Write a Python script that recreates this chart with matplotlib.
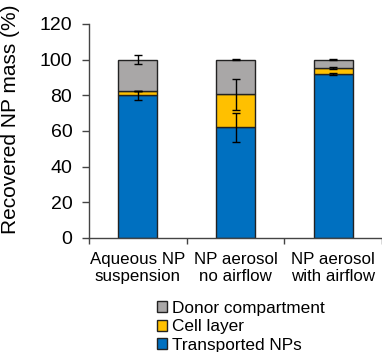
import matplotlib
matplotlib.use("Agg")
import matplotlib.pyplot as plt
import numpy as np

plt.rcParams['font.family'] = ['Liberation Sans', 'DejaVu Sans']

categories = ["Aqueous NP\nsuspension", "NP aerosol\nno airflow", "NP aerosol\nwith airflow"]
transported = [80.0, 62.0, 92.0]
cell_layer = [2.5, 18.5, 3.5]
donor = [17.5, 19.5, 4.5]
err_transported = [2.6, 8.0, 0.5]
err_cell = [0.0, 8.5, 0.5]
err_donor = [2.5, 0.3, 0.5]

c_blue = "#0070C0"
c_yellow = "#FFC000"
c_gray = "#A9A7A7"
edge = "#222222"

fig = plt.figure(figsize=(3.82, 3.52), dpi=100)
ax = fig.add_axes([0.233, 0.324, 0.767, 0.608])

x = np.arange(len(categories))
w = 0.4
t = np.array(transported)
c = np.array(cell_layer)
d = np.array(donor)
ax.bar(x, t, w, color=c_blue, edgecolor=edge, linewidth=1, label="Transported NPs", zorder=2)
ax.bar(x, c, w, bottom=t, color=c_yellow, edgecolor=edge, linewidth=1, label="Cell layer", zorder=2)
ax.bar(x, d, w, bottom=t + c, color=c_gray, edgecolor=edge, linewidth=1, label="Donor compartment", zorder=2)

ekw = dict(fmt='none', ecolor='black', elinewidth=1, capsize=3.2, capthick=1, zorder=3)
ax.errorbar(x, t, yerr=err_transported, **ekw)
ax.errorbar(x, t + c, yerr=err_cell, **ekw)
ax.errorbar(x, t + c + d, yerr=err_donor, **ekw)

ax.set_ylim(0, 120)
ax.set_xlim(-0.5, 2.5)
ax.set_yticks(np.arange(0, 121, 20))
ax.set_xticks(x)
ax.set_xticklabels(categories, fontsize=12.2, linespacing=1.2)
ax.set_xticks([-0.5, 0.5, 1.5, 2.5], minor=True)
ax.tick_params(axis='x', which='major', length=0, pad=10)
ax.tick_params(axis='x', which='minor', length=4, width=1, direction='out', color='#444444')
ax.tick_params(axis='y', labelsize=14, length=5, width=1, color='#444444', pad=7)
ax.set_ylabel("Recovered NP mass (%)", fontsize=15)
ax.yaxis.set_label_coords(-0.235, 0.556)
for s in ['top', 'right']:
    ax.spines[s].set_visible(False)
for s in ['left', 'bottom']:
    ax.spines[s].set_color('#444444')
    ax.spines[s].set_linewidth(1)

h, l = ax.get_legend_handles_labels()
fig.legend(h[::-1], l[::-1], loc='upper left', bbox_to_anchor=(0.41, 0.145),
           frameon=False, fontsize=12.4, handlelength=0.6, handleheight=0.6,
           handletextpad=0.3, labelspacing=0.2, borderpad=0, borderaxespad=0)

fig.savefig("out.png", dpi=100)
